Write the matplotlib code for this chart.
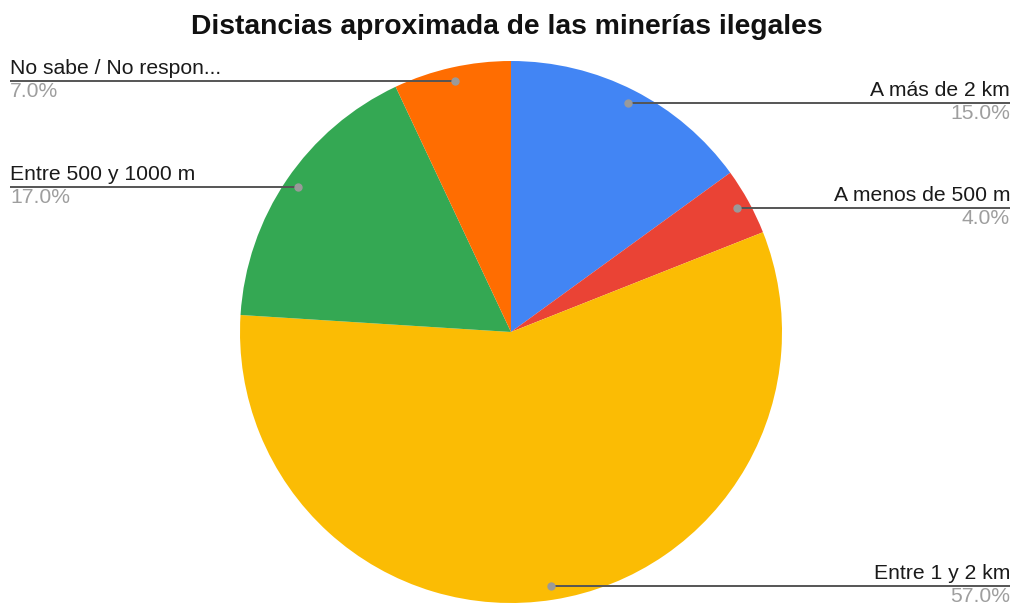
import numpy as np
import matplotlib.pyplot as plt

plt.rcParams['font.family'] = ['Liberation Sans', 'DejaVu Sans']

# data
labels = ['A más de 2 km', 'A menos de 500 m', 'Entre 1 y 2 km',
          'Entre 500 y 1000 m', 'No sabe / No respon...']
values = [15.0, 4.0, 57.0, 17.0, 7.0]
colors = ['#4285F4', '#EA4335', '#FBBC04', '#34A853', '#FF6D01']
title = 'Distancias aproximada de las minerías ilegales'

W, H = 1014, 603
fig = plt.figure(figsize=(W / 100, H / 100), dpi=100)
ax = fig.add_axes([0, 0, 1, 1])

cx, cy, R = 511, H - 332, 271
wedges, _ = ax.pie(values, colors=colors, startangle=90, counterclock=False,
                   center=(cx, cy), radius=R, frame=True,
                   wedgeprops=dict(linewidth=0))
ax.set_xlim(0, W)
ax.set_ylim(0, H)
ax.set_aspect('equal')
ax.axis('off')

fig.text(0.5, 1 - 27 / H, title, ha='center', va='center',
         fontsize=20.3, fontweight='bold', color='#111111')

for w, lab, v in zip(wedges, labels, values):
    mid = np.deg2rad((w.theta1 + w.theta2) / 2)
    px = cx + 0.95 * R * np.cos(mid)
    py = cy + 0.95 * R * np.sin(mid)
    if px >= cx:
        xe, ha = 1010, 'right'
    else:
        xe, ha = 10, 'left'
    ax.plot([px, xe], [py, py], color='#555555', lw=1.4, zorder=3,
            solid_capstyle='butt')
    ax.plot([px], [py], 'o', color='#9a9a9a', ms=5, zorder=4)
    ax.text(xe, py + 3, lab, ha=ha, va='bottom', fontsize=15.2, color='#1a1a1a')
    ax.text(xe, py - 1, '{:.1f}%'.format(v), ha=ha, va='top',
            fontsize=15.2, color='#9e9e9e')

plt.savefig('out.png', dpi=100)
